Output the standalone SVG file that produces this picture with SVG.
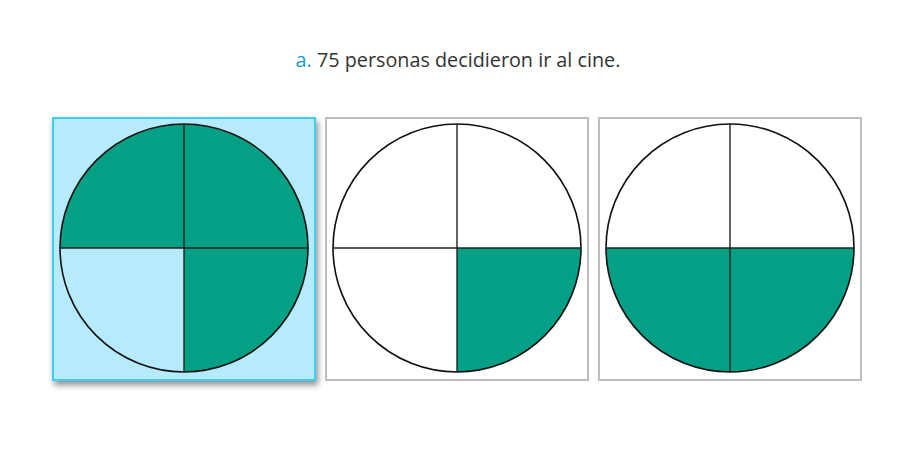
<svg xmlns="http://www.w3.org/2000/svg" width="918" height="455" viewBox="0 0 918 455">
<defs>
<filter id="sh" x="-10%" y="-10%" width="125%" height="125%">
<feGaussianBlur in="SourceAlpha" stdDeviation="3"/>
<feOffset dx="2" dy="4"/>
<feComponentTransfer><feFuncA type="linear" slope="0.45"/></feComponentTransfer>
<feMerge><feMergeNode/><feMergeNode in="SourceGraphic"/></feMerge>
</filter>
<style>
.box{fill:#fff;stroke:#bdbdbd;stroke-width:2}
.sel{fill:#b5ebfd;stroke:#3dcff0;stroke-width:2}
.g{fill:#03a086}
.c{fill:none;stroke:#111;stroke-width:1.6}
.l{stroke:#222;stroke-width:1.4}
text{font-family:"Open Sans","Noto Sans",sans-serif;font-size:19.8px;fill:#333}
</style>
</defs>
<rect width="918" height="455" fill="#fff"/>
<g id="title"><text x="458" y="67" text-anchor="middle"><tspan fill="#1a9ad6">a.</tspan> 75 personas decidieron ir al cine.</text></g>
<g id="option1">
<rect class="sel" x="53" y="118" width="262" height="262" filter="url(#sh)"/>
<path class="g" d="M184 248 L60 248 A124 124 0 0 1 308 248 A124 124 0 0 1 184 372 Z"/>
<circle class="c" cx="184" cy="248" r="124"/>
<line class="l" x1="184" y1="124" x2="184" y2="372"/>
<line class="l" x1="60" y1="248" x2="308" y2="248"/>
</g>
<g id="option2">
<rect class="box" x="326" y="118" width="262" height="262"/>
<path class="g" d="M457 248 L581 248 A124 124 0 0 1 457 372 Z"/>
<circle class="c" cx="457" cy="248" r="124"/>
<line class="l" x1="457" y1="124" x2="457" y2="372"/>
<line class="l" x1="333" y1="248" x2="581" y2="248"/>
</g>
<g id="option3">
<rect class="box" x="599" y="118" width="262" height="262"/>
<path class="g" d="M606 248 L854 248 A124 124 0 0 1 606 248 Z"/>
<circle class="c" cx="730" cy="248" r="124"/>
<line class="l" x1="730" y1="124" x2="730" y2="372"/>
<line class="l" x1="606" y1="248" x2="854" y2="248"/>
</g>
</svg>
